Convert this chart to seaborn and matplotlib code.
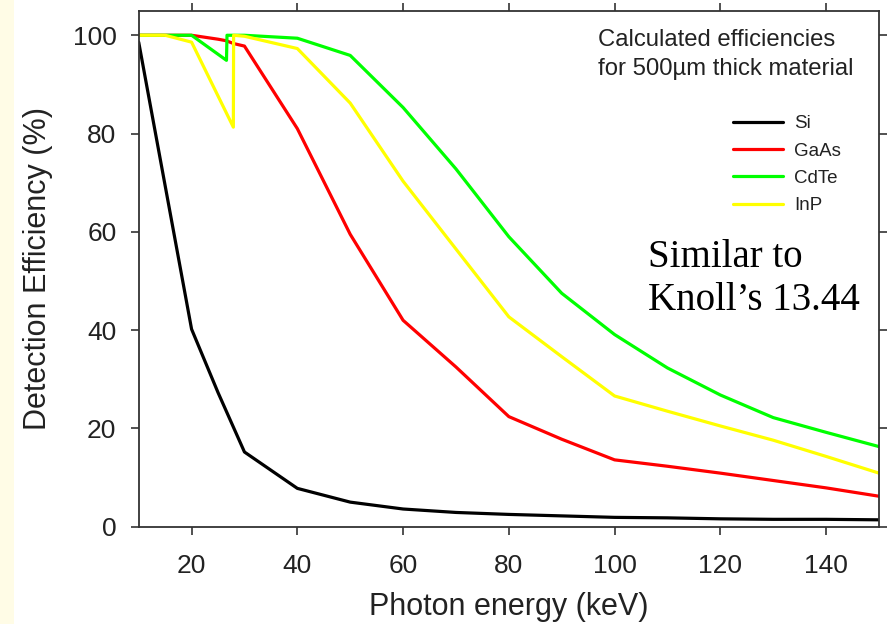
import numpy as np
import pandas as pd
import matplotlib
matplotlib.use('Agg')
import matplotlib.pyplot as plt
import seaborn as sns
from matplotlib.patches import Rectangle

# values (energy in keV, efficiency in %)
energy_si = [10, 20, 25, 30, 40, 50, 60, 70, 80, 90, 100, 110, 120, 130, 140, 150]
eff_si = [98.6, 40.2, 27.3, 15.2, 7.8, 5.0, 3.6, 2.9, 2.5, 2.2, 1.9, 1.8, 1.6, 1.5, 1.5, 1.4]

energy_gaas = [10, 15, 20, 25, 26.5, 28, 30, 40, 50, 60, 70, 80, 90, 100, 110, 120, 130, 140, 150]
eff_gaas = [100, 100, 100, 99.2, 98.9, 98.3, 97.8, 81.0, 59.5, 42.0, 32.5, 22.4, 17.8, 13.6, 12.3, 10.9, 9.4, 7.9, 6.2]

energy_cdte = [10, 20, 26.6, 26.7, 30, 40, 50, 60, 70, 80, 90, 100, 110, 120, 130, 140, 150]
eff_cdte = [100, 100, 94.9, 100, 100, 99.4, 95.9, 85.3, 72.8, 59.0, 47.5, 39.1, 32.3, 26.8, 22.2, 19.2, 16.3]

energy_inp = [10, 15, 20, 27.9, 27.95, 30, 40, 50, 60, 70, 80, 90, 100, 110, 120, 130, 140, 150]
eff_inp = [100, 100, 98.6, 81.3, 100, 99.8, 97.3, 86.2, 70.3, 56.5, 42.7, 34.6, 26.6, 23.5, 20.5, 17.6, 14.3, 10.9]

materials = ['Si', 'GaAs', 'CdTe', 'InP']
colors = {'Si': '#000000', 'GaAs': '#ff0000', 'CdTe': '#00ff00', 'InP': '#ffff00'}

x_ticks = [20, 40, 60, 80, 100, 120, 140]
y_ticks = [0, 20, 40, 60, 80, 100]

frames = []
for name, e, v in zip(materials,
                      [energy_si, energy_gaas, energy_cdte, energy_inp],
                      [eff_si, eff_gaas, eff_cdte, eff_inp]):
    frames.append(pd.DataFrame({'Energy': e, 'Efficiency': v, 'Material': name}))
df = pd.concat(frames, ignore_index=True)

sns.set_style('ticks')
plt.rcParams['font.family'] = ['Liberation Sans', 'DejaVu Sans']

W, H = 888, 624
fig = plt.figure(figsize=(W / 100, H / 100), dpi=100)

# pale strip at the left edge of the slide
fig.patches.append(Rectangle((0, 0), 14 / W, 1, transform=fig.transFigure,
                             facecolor='#fffce6', edgecolor='none', zorder=0))

ax = fig.add_axes([138.7 / W, 1 - 526.7 / H, (879 - 138.7) / W, (526.7 - 10.7) / H])

sns.lineplot(data=df, x='Energy', y='Efficiency', hue='Material',
             hue_order=materials, palette=colors, sort=False,
             estimator=None, linewidth=2.3, ax=ax)

ax.set_xlim(10, 150)
ax.set_ylim(0, 105)
ax.set_xticks(x_ticks)
ax.set_yticks(y_ticks)
ax.tick_params(axis='both', direction='out', length=6, width=1.2,
               colors='#333333', labelcolor='#222222', labelsize=19,
               top=True, right=True)
ax.tick_params(axis='x', pad=14)
ax.tick_params(axis='y', pad=10)
for s in ax.spines.values():
    s.set_visible(True)
    s.set_linewidth(1.3)
    s.set_color('#333333')

ax.set_xlabel('Photon energy (keV)', fontsize=22, color='#222222', labelpad=10)
ax.set_ylabel('Detection Efficiency (%)', fontsize=22, color='#222222', labelpad=14)

ax.legend(frameon=False, fontsize=13.5, loc='upper left',
          bbox_to_anchor=(733 / W, 1 - 115 / H), bbox_transform=fig.transFigure,
          borderpad=0, borderaxespad=0, handlelength=2.65, handletextpad=0.6,
          labelspacing=0.55, labelcolor='#222222')

fig.text(598 / W, 1 - 29 / H, 'Calculated efficiencies\nfor 500\u00b5m thick material',
         fontsize=17.2, color='#222222', ha='left', va='top', linespacing=1.4)

fig.text(648 / W, 1 - 239 / H, 'Similar to\nKnoll\u2019s 13.44',
         family=['Liberation Serif', 'DejaVu Serif'], fontsize=28,
         color='black', ha='left', va='top', linespacing=1.22)

fig.savefig('out.png', dpi=100)
